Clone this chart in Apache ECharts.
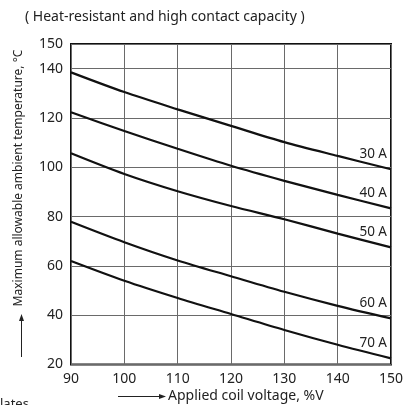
<!DOCTYPE html>
<html>
<head>
<meta charset="utf-8">
<script src="https://cdn.jsdelivr.net/npm/echarts@6/dist/echarts.min.js"></script>
<style>
html,body{margin:0;padding:0;background:#fff;}
#c{width:408px;height:405px;}
</style>
</head>
<body>
<div id="c"></div>
<script>
var voltages = [90, 100, 110, 120, 130, 140, 150];
var curveNames = ['30 A', '40 A', '50 A', '60 A', '70 A'];
var temp30A = [138.5, 130.5, 123.5, 116.8, 110.2, 104.6, 99.2];
var temp40A = [122.3, 114.7, 107.5, 100.6, 94.5, 88.8, 83.3];
var temp50A = [105.7, 97.3, 90.3, 84.3, 78.9, 73.1, 67.5];
var temp60A = [77.9, 69.6, 62.2, 55.8, 49.5, 43.8, 38.7];
var temp70A = [62.0, 54.0, 47.0, 40.5, 34.0, 28.0, 22.5];
var yTicks = [20, 40, 60, 80, 100, 120, 140, 150];
var xTicks = [90, 100, 110, 120, 130, 140, 150];

var FONT = 'Noto Sans';
var allTemps = [temp30A, temp40A, temp50A, temp60A, temp70A];

var series = allTemps.map(function (arr, i) {
  var last = arr.length - 1;
  return {
    name: curveNames[i],
    type: 'line',
    data: voltages.map(function (v, j) { return [v, arr[j]]; }),
    smooth: 0.3,
    symbol: 'none',
    lineStyle: { color: '#111', width: 2.2 },
    silent: true,
    animation: false,
    markPoint: {
      symbol: 'circle',
      symbolSize: 0,
      silent: true,
      animation: false,
      data: [{ coord: [voltages[last], arr[last]] }],
      label: {
        show: true,
        formatter: curveNames[i],
        position: 'left',
        distance: 4,
        offset: [0, -15],
        color: '#222',
        fontSize: 13.5,
        fontFamily: FONT
      }
    }
  };
});

var chart = echarts.init(document.getElementById('c'), null, { renderer: 'canvas' });
chart.setOption({
  animation: false,
  backgroundColor: '#fff',
  grid: {
    left: 71, right: 17, top: 44, bottom: 40.5,
    show: true, borderColor: '#111', borderWidth: 2, backgroundColor: 'transparent'
  },
  xAxis: {
    type: 'value', min: 90, max: 150, interval: 10,
    axisLine: { show: false }, axisTick: { show: false },
    splitLine: { show: true, lineStyle: { color: '#6a6a6a', width: 1 } },
    axisLabel: {
      color: '#222', fontSize: 14, fontFamily: FONT, margin: 8,
      formatter: function (v) { return xTicks.indexOf(v) >= 0 ? String(v) : ''; }
    }
  },
  yAxis: {
    type: 'value', min: 20, max: 150, interval: 20,
    axisLine: { show: false }, axisTick: { show: false },
    splitLine: { show: true, lineStyle: { color: '#6a6a6a', width: 1 } },
    axisLabel: {
      color: '#222', fontSize: 14, fontFamily: FONT, margin: 8,
      formatter: function (v) { return yTicks.indexOf(v) >= 0 ? String(v) : ''; }
    }
  },
  series: series,
  graphic: [
    {
      type: 'text', left: 25, top: 10,
      style: { text: '( Heat-resistant and high contact capacity )', fill: '#222', font: '14px "' + FONT + '"' }
    },
    {
      type: 'text', x: 19, y: 178, rotation: Math.PI / 2,
      style: { text: 'Maximum allowable ambient temperature, °C', fill: '#222', font: '12px "' + FONT + '"',
               textAlign: 'center', textVerticalAlign: 'middle' }
    },
    { type: 'line', shape: { x1: 21.5, y1: 357, x2: 21.5, y2: 320 }, style: { stroke: '#222', lineWidth: 1 } },
    { type: 'polygon', shape: { points: [[21.5, 314], [19, 321], [24, 321]] }, style: { fill: '#222' } },
    {
      type: 'text', x: 168, y: 396,
      style: { text: 'Applied coil voltage, %V', fill: '#222', font: '14px "' + FONT + '"',
               textAlign: 'left', textVerticalAlign: 'middle' }
    },
    { type: 'line', shape: { x1: 118, y1: 396.5, x2: 160, y2: 396.5 }, style: { stroke: '#222', lineWidth: 1 } },
    { type: 'polygon', shape: { points: [[166, 396.5], [159, 394], [159, 399]] }, style: { fill: '#222' } },
    {
      type: 'text', left: 0, top: 398,
      style: { text: 'lates', fill: '#222', font: '13px "' + FONT + '"' }
    }
  ]
});
</script>
</body>
</html>
